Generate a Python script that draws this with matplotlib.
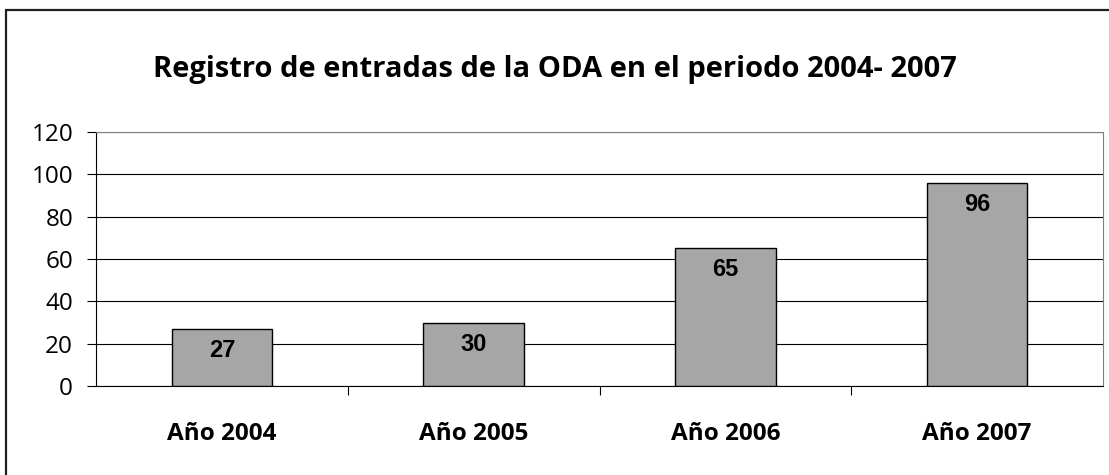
import matplotlib.pyplot as plt
from matplotlib.patches import Rectangle

# datos
anios = ['Año 2004', 'Año 2005', 'Año 2006', 'Año 2007']
entradas = [27, 30, 65, 96]
y_ticks = [0, 20, 40, 60, 80, 100, 120]

plt.rcParams['font.family'] = ['Open Sans', 'DejaVu Sans']

fig = plt.figure(figsize=(11.09, 4.75), dpi=100)
ax = fig.add_axes([96 / 1109, 1 - 386 / 475, (1103 - 96) / 1109, (386 - 132) / 475])

# borde exterior del grafico
fig.patches.append(Rectangle((6 / 1109, -0.1), 1.2, 1 - 10 / 475 + 0.1,
                             transform=fig.transFigure, fill=False,
                             edgecolor='#222222', linewidth=1.6, zorder=0))

x = range(len(anios))
bars = ax.bar(x, entradas, width=0.4, color='#A6A6A6', edgecolor='black',
              linewidth=1.0, zorder=3)

for b, v in zip(bars, entradas):
    ax.annotate(str(v), (b.get_x() + b.get_width() / 2, v),
                xytext=(0, -15.5), textcoords='offset points',
                ha='center', va='center', fontsize=17, fontweight='bold',
                family=['Liberation Sans'], zorder=4)

ax.set_xlim(-0.5, len(anios) - 0.5)
ax.set_ylim(0, 120)
ax.set_yticks(y_ticks)
ax.set_yticklabels([str(t) for t in y_ticks], fontsize=17.5)
ax.yaxis.grid(True, color='black', linewidth=0.8, zorder=0)
ax.set_axisbelow(True)

ax.set_xticks(list(x))
ax.set_xticklabels(anios, fontsize=17.5, fontweight='bold')
ax.tick_params(axis='x', length=0, pad=26)
ax.set_xticks([i + 0.5 for i in range(len(anios) - 1)], minor=True)
ax.tick_params(axis='x', which='minor', length=6.5, direction='out', width=0.8)
ax.tick_params(axis='y', length=6.5, width=0.8, pad=10)

for s in ['top', 'right']:
    ax.spines[s].set_color('#808080')
ax.spines['left'].set_linewidth(0.8)
ax.spines['bottom'].set_linewidth(0.8)

fig.text(0.5, 1 - 70 / 475, 'Registro de entradas de la ODA en el periodo 2004- 2007',
         ha='center', va='center', fontsize=21, fontweight='bold')

fig.savefig('out.png', dpi=100)
